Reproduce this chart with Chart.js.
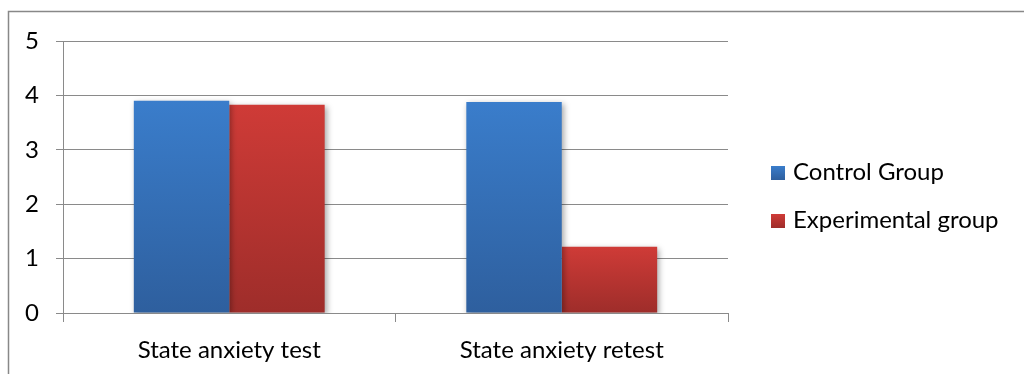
<!DOCTYPE html>
<html>
<head>
<meta charset="utf-8">
<script src="https://cdn.jsdelivr.net/npm/chart.js@4/dist/chart.umd.min.js"></script>
<style>
  html, body { margin: 0; padding: 0; background: #fff; }
  canvas { display: block; }
</style>
</head>
<body>
<canvas id="c" width="1024" height="374"></canvas>
<script>
const categories = ['State anxiety test', 'State anxiety retest'];
const controlGroup = [3.90, 3.88];
const experimentalGroup = [3.83, 1.22];
const yTicks = [0, 1, 2, 3, 4, 5];

const FONT = 'Lato, "Open Sans", sans-serif';
const FONT_SIZE = 24;
const GRID = '#8a8a8a';

// vertical gradient for each bar, from its top to the baseline
function barGradient(top, bottom) {
  return function (ctx) {
    const chart = ctx.chart;
    const y = chart.scales && chart.scales.y;
    if (!y || ctx.type !== 'data') return top;
    const y0 = y.getPixelForValue(0);
    const y1 = y.getPixelForValue(ctx.raw);
    if (!isFinite(y0) || !isFinite(y1) || y0 === y1) return top;
    const g = chart.ctx.createLinearGradient(0, y1, 0, y0);
    g.addColorStop(0, top);
    g.addColorStop(1, bottom);
    return g;
  };
}

// soft drop shadow behind the bars
const barShadow = {
  id: 'barShadow',
  beforeDatasetDraw(chart) {
    const c = chart.ctx;
    c.save();
    c.shadowColor = 'rgba(0,0,0,0.35)';
    c.shadowBlur = 6;
    c.shadowOffsetX = 2;
    c.shadowOffsetY = 2;
  },
  afterDatasetDraw(chart) {
    chart.ctx.restore();
  }
};

// outer frame and the legend on the right
const frameAndLegend = {
  id: 'frameAndLegend',
  afterDraw(chart) {
    const c = chart.ctx;
    c.save();
    c.strokeStyle = '#888888';
    c.lineWidth = 1.5;
    c.beginPath();
    c.moveTo(8.5, 374);
    c.lineTo(8.5, 11.5);
    c.lineTo(1024, 11.5);
    c.stroke();

    const items = [
      { label: chart.data.datasets[0].label, top: '#3A7DCB', bottom: '#2E5F9E', y: 166 },
      { label: chart.data.datasets[1].label, top: '#CF3B37', bottom: '#9E2D2A', y: 214 }
    ];
    c.font = FONT_SIZE + 'px ' + FONT;
    c.textBaseline = 'alphabetic';
    items.forEach(it => {
      const g = c.createLinearGradient(0, it.y, 0, it.y + 14);
      g.addColorStop(0, it.top);
      g.addColorStop(1, it.bottom);
      c.fillStyle = g;
      c.fillRect(771, it.y, 14, 14);
      c.fillStyle = '#000';
      c.fillText(it.label, 793, it.y + 14);
    });
    c.restore();
  }
};

new Chart(document.getElementById('c'), {
  type: 'bar',
  data: {
    labels: categories,
    datasets: [
      {
        label: 'Control Group',
        data: controlGroup,
        backgroundColor: barGradient('#3A7DCB', '#2E5F9E'),
        borderWidth: 0
      },
      {
        label: 'Experimental group',
        data: experimentalGroup,
        backgroundColor: barGradient('#CF3B37', '#9E2D2A'),
        borderWidth: 0
      }
    ]
  },
  options: {
    responsive: false,
    animation: false,
    devicePixelRatio: 1,
    layout: { padding: { left: 0, top: 41, right: 296, bottom: 0 } },
    datasets: { bar: { categoryPercentage: 0.574, barPercentage: 1.0 } },
    plugins: {
      legend: { display: false },
      tooltip: { enabled: false }
    },
    scales: {
      x: {
        offset: true,
        afterFit(scale) { scale.height = 61; },
        grid: {
          offset: true,
          drawOnChartArea: false,
          drawTicks: true,
          tickLength: 9,
          color: GRID,
          lineWidth: 1
        },
        border: { display: true, color: GRID, width: 1 },
        ticks: {
          color: '#000',
          padding: 14,
          font: { family: FONT, size: FONT_SIZE }
        }
      },
      y: {
        min: 0,
        max: 5,
        afterFit(scale) { scale.width = 63; },
        afterBuildTicks(scale) { scale.ticks = yTicks.map(v => ({ value: v })); },
        grid: {
          drawTicks: true,
          tickLength: 7,
          color: GRID,
          lineWidth: 1
        },
        border: { display: true, color: GRID, width: 1 },
        ticks: {
          color: '#000',
          padding: 17,
          font: { family: FONT, size: FONT_SIZE }
        }
      }
    }
  },
  plugins: [barShadow, frameAndLegend]
});
</script>
</body>
</html>
